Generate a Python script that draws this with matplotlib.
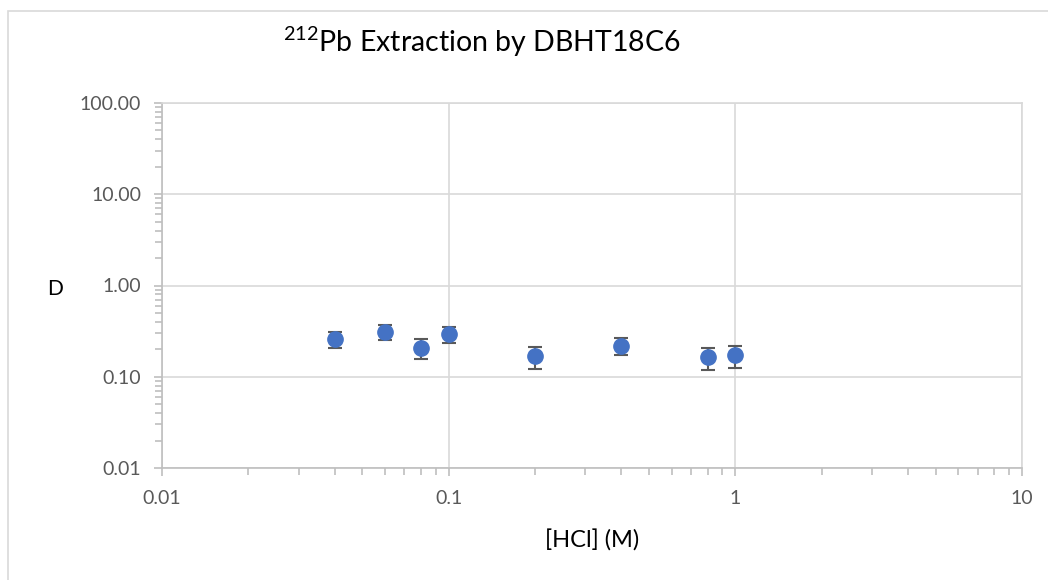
import matplotlib
matplotlib.use("Agg")
import matplotlib.pyplot as plt
from matplotlib.ticker import LogLocator, FixedLocator, NullFormatter
from matplotlib.patches import Rectangle

hcl = [0.04, 0.06, 0.08, 0.1, 0.2, 0.4, 0.8, 1.0]
D = [0.26, 0.31, 0.207, 0.293, 0.168, 0.22, 0.164, 0.172]
D_err = [0.052, 0.06, 0.049, 0.056, 0.045, 0.048, 0.044, 0.046]

x_ticks = [0.01, 0.1, 1, 10]
x_labels = ["0.01", "0.1", "1", "10"]
y_ticks = [0.01, 0.1, 1, 10, 100]
y_labels = ["0.01", "0.10", "1.00", "10.00", "100.00"]

plt.rcParams['font.family'] = ['Lato', 'DejaVu Sans']
plt.rcParams['mathtext.fontset'] = 'custom'
plt.rcParams['mathtext.rm'] = 'Lato'

fig = plt.figure(figsize=(10.48, 5.8), dpi=100)
fig.patches.append(Rectangle((8/1048, -0.1), 1.2, 1 - 11/580 + 0.1, transform=fig.transFigure,
                             fill=False, edgecolor="#d9d9d9", linewidth=1.2, zorder=0))
ax = fig.add_axes([162/1048, 1 - 468/580, (1022-162)/1048, (468-103)/580])
ax.set_xscale('log')
ax.set_yscale('log')
ax.set_xlim(0.01, 10)
ax.set_ylim(0.01, 100)

ax.xaxis.set_major_locator(FixedLocator(x_ticks))
ax.set_xticklabels(x_labels)
ax.yaxis.set_major_locator(FixedLocator(y_ticks))
ax.set_yticklabels(y_labels)
ax.xaxis.set_minor_locator(LogLocator(base=10, subs=range(2, 10)))
ax.yaxis.set_minor_locator(LogLocator(base=10, subs=range(2, 10)))
ax.xaxis.set_minor_formatter(NullFormatter())
ax.yaxis.set_minor_formatter(NullFormatter())

ax.grid(True, which='major', color='#d9d9d9', linewidth=1.2)
for s in ax.spines.values():
    s.set_color('#d9d9d9')
    s.set_linewidth(1.2)
ax.spines['left'].set_color('#bfbfbf')
ax.spines['bottom'].set_color('#bfbfbf')
ax.tick_params(which='both', color='#bfbfbf', width=1.2, direction='out')
ax.tick_params(which='major', length=6, labelsize=14, labelcolor='#595959')
ax.tick_params(which='minor', length=5)
ax.tick_params(axis='y', which='major', pad=9)
ax.tick_params(axis='x', which='major', pad=10)

ax.errorbar(hcl, D, yerr=D_err, fmt='o', color='#4472c4', markersize=11,
            ecolor='#595959', elinewidth=1.5, capsize=5, capthick=1.5, zorder=3)

fig.text(482/1048, 1 - 42/580, r"$^{212}$Pb Extraction by DBHT18C6", ha='center', va='center',
         fontsize=20.5, color='#000000')
fig.text(55/1048, 1 - 289/580, "D", ha='center', va='center', fontsize=15, color='#000000')
fig.text(592/1048, 1 - 541/580, "[HCl] (M)", ha='center', va='center', fontsize=17, color='#000000')

fig.savefig("out.png", dpi=100)
